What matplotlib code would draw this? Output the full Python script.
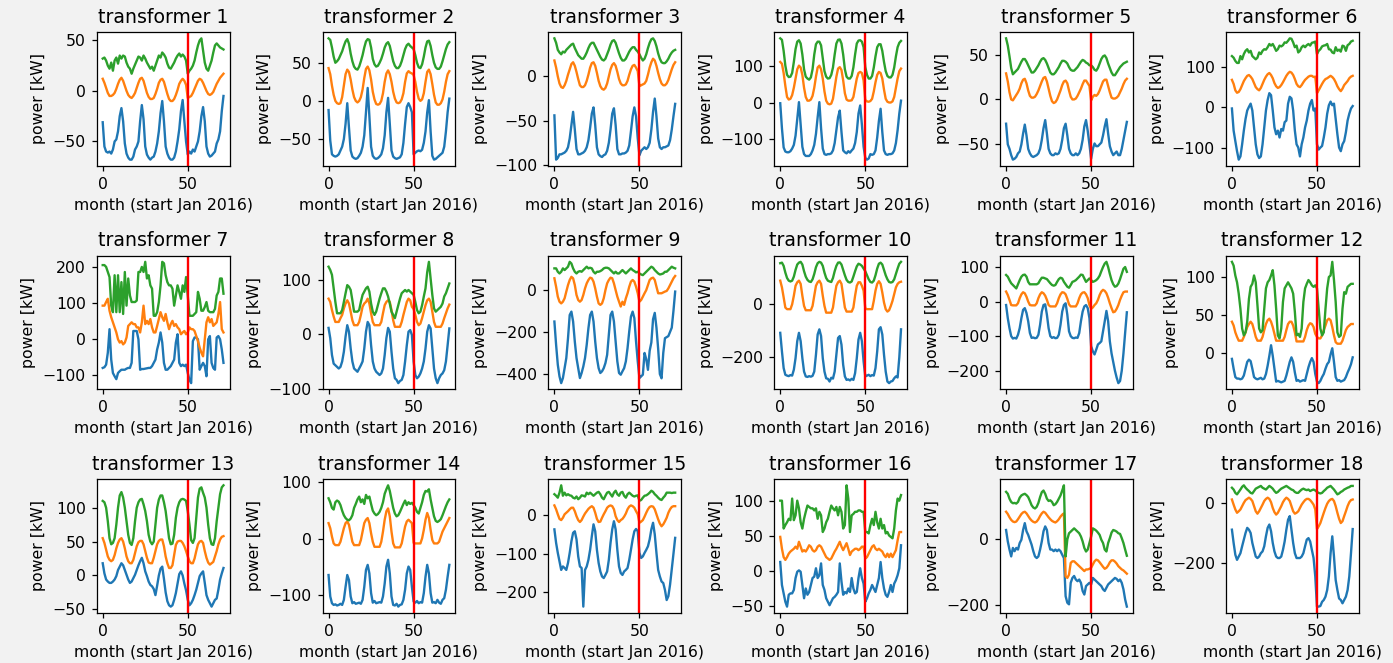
import matplotlib
matplotlib.use('Agg')
import matplotlib.pyplot as plt
import numpy as np

months = np.arange(72)

t1_blue = [-31,-55,-60,-61,-60,-62,-58,-50,-48,-40,-25,-17,
 -30,-52,-62,-66,-68,-68,-65,-58,-55,-50,-30,-14,
 -28,-55,-63,-66,-68,-66,-65,-60,-52,-40,-22,-10,
 -30,-55,-62,-66,-68,-68,-66,-60,-50,-38,-20,-9,
 -30,-50,-63,-60,-62,-58,-60,-55,-50,-40,-25,-16,
 -30,-55,-62,-65,-64,-62,-60,-52,-48,-40,-20,-5]
t1_orange = [12,8,3,-2,-5,-5,-4,-2,2,7,11,13,
 10,5,0,-4,-6,-7,-5,-2,3,8,12,13,
 10,4,-2,-6,-8,-8,-7,-3,2,8,11,12,
 9,3,-3,-8,-10,-10,-8,-4,1,7,10,12,
 10,6,-7,-6,-5,-2,2,6,10,12,11,8,
 4,0,-3,-4,-3,-1,3,7,10,13,15,17]
t1_green = [32,33,30,25,22,28,20,30,33,27,35,32,
 35,34,28,24,22,17,22,26,30,34,33,30,
 35,32,28,25,22,24,20,25,30,35,33,38,
 36,33,27,23,22,25,28,32,35,37,34,36,
 34,30,17,20,22,25,30,38,45,50,52,40,
 28,22,20,25,30,38,45,47,45,43,42,41]

t2_blue = [-12,-52,-70,-72,-73,-72,-70,-65,-60,-50,-30,-3,
 -35,-65,-73,-75,-76,-75,-72,-68,-60,-45,-15,17,
 -20,-60,-72,-75,-76,-75,-73,-70,-62,-45,-15,4,
 -30,-65,-73,-75,-76,-75,-74,-70,-55,-30,-8,-3,
 -8,-15,-70,-68,-66,-65,-66,-64,-55,-40,-15,1,
 -40,-72,-77,-76,-74,-72,-70,-68,-60,-40,-15,3]
t2_orange = [43,35,20,8,0,-3,-4,-3,5,20,35,41,
 38,28,15,5,0,-2,0,5,15,30,42,45,
 40,28,12,2,-4,-5,-4,0,10,25,36,40,
 35,25,12,3,-2,-3,-2,2,10,25,36,39,
 37,36,34,25,12,3,0,2,10,25,38,41,
 35,22,8,-2,-5,-5,-3,2,12,25,35,39]
t2_green = [82,80,70,58,50,52,55,60,65,72,78,81,
 75,62,52,45,42,41,45,52,60,70,78,81,
 80,70,55,48,45,46,50,55,62,70,75,77,
 72,62,52,46,43,43,46,52,60,68,73,75,
 72,70,68,60,50,44,43,48,58,70,78,79,
 72,60,50,44,42,42,45,52,60,68,74,77]

t3_blue = [-44,-94,-92,-88,-88,-87,-86,-84,-80,-70,-55,-40,
 -60,-82,-88,-88,-87,-86,-84,-80,-72,-58,-42,-35,
 -55,-80,-88,-90,-91,-89,-88,-84,-75,-60,-42,-36,
 -55,-82,-88,-88,-87,-87,-86,-84,-78,-62,-45,-35,
 -45,-70,-89,-84,-82,-80,-82,-80,-75,-60,-40,-25,
 -45,-70,-80,-82,-80,-80,-79,-78,-72,-60,-45,-31]
t3_orange = [18,10,0,-8,-12,-13,-10,-5,2,8,14,16,
 12,5,-3,-10,-12,-12,-10,-5,2,10,15,16,
 12,4,-5,-11,-14,-15,-13,-8,0,8,13,15,
 12,5,-3,-8,-10,-10,-9,-5,2,8,12,13,
 10,6,-11,-10,-9,-8,-5,2,10,16,20,18,
 12,4,-3,-8,-10,-10,-8,-4,2,8,13,16]
t3_green = [43,38,30,27,25,28,27,30,32,34,36,37,
 32,28,24,22,20,20,23,27,32,36,38,38,
 34,30,26,22,19,18,20,25,30,36,40,41,
 38,32,26,21,18,18,20,24,28,31,33,33,
 30,28,25,21,18,20,25,32,38,42,43,40,
 34,26,20,16,15,15,17,20,24,27,29,30]

t4_blue = [-2,-70,-122,-133,-135,-135,-132,-125,-115,-90,-45,1,
 -60,-120,-140,-145,-145,-145,-140,-130,-115,-85,-40,1,
 -70,-125,-140,-142,-140,-140,-138,-130,-110,-75,-40,-22,
 -80,-130,-135,-138,-132,-136,-130,-125,-110,-80,-30,-8,
 -60,-120,-150,-155,-152,-140,-142,-140,-130,-95,-50,-17,
 -80,-130,-140,-142,-140,-140,-138,-130,-110,-75,-30,5]
t4_orange = [110,105,80,45,15,8,10,20,40,65,90,100,
 95,75,40,15,5,5,8,18,40,70,95,100,
 90,65,30,5,-3,-5,-3,10,40,70,92,96,
 88,60,25,8,5,5,6,15,40,65,80,83,
 80,60,7,3,2,4,10,30,55,75,83,80,
 65,35,10,2,0,0,3,15,40,65,85,92]
t4_green = [174,170,140,100,75,69,70,80,110,145,165,169,
 160,130,90,70,65,62,68,90,130,158,165,165,
 155,120,85,70,65,66,75,95,130,160,170,171,
 160,130,90,70,65,65,72,95,130,160,168,169,
 165,150,96,75,65,65,72,95,125,150,158,158,
 140,110,85,72,68,68,75,95,125,150,162,167]

t5_blue = [-27,-50,-55,-62,-67,-66,-64,-60,-58,-50,-38,-28,
 -40,-55,-60,-63,-64,-63,-62,-60,-55,-45,-32,-23,
 -38,-55,-60,-62,-62,-60,-61,-60,-55,-45,-32,-27,
 -40,-55,-60,-62,-62,-60,-62,-60,-55,-45,-30,-23,
 -35,-50,-66,-55,-49,-52,-52,-50,-48,-40,-30,-22,
 -38,-52,-58,-62,-60,-58,-62,-62,-55,-45,-35,-25]
t5_orange = [29,20,8,0,-1,2,5,8,12,18,22,23,
 18,10,4,2,2,3,6,10,15,20,24,25,
 20,12,4,-2,-4,-3,0,5,10,16,20,21,
 18,10,3,0,0,1,4,8,12,17,21,21,
 18,15,-1,3,5,4,6,10,15,20,22,22,
 15,8,2,1,1,2,4,8,12,17,21,23]
t5_green = [68,60,48,35,28,30,32,34,38,42,45,45,
 42,38,34,30,30,32,35,38,42,45,46,44,
 40,35,30,28,28,30,33,36,40,43,43,42,
 40,36,33,32,32,34,36,39,42,44,43,41,
 40,38,38,36,33,32,35,40,45,48,49,46,
 40,35,30,27,27,30,33,36,38,40,41,42]

t6_blue = [-3,-58,-84,-109,-130,-122,-92,-58,-29,-8,1,9,
 -8,-50,-92,-117,-126,-122,-92,-50,-8,18,35,30,
 -8,-50,-67,-58,-75,-54,-58,-37,-33,9,26,22,
 -8,-58,-92,-100,-122,-92,-75,-50,-33,-8,9,18,
 -8,-3,-92,-105,-100,-96,-75,-50,-16,5,14,5,
 9,-29,-67,-100,-109,-92,-84,-62,-33,-16,-3,3]
t6_orange = [68,58,42,36,38,45,55,65,72,78,80,76,
 70,60,50,45,42,48,58,68,76,82,85,80,
 72,60,52,48,50,55,62,70,78,84,88,86,
 80,70,58,52,50,55,62,68,72,76,78,78,
 75,76,35,42,50,58,65,70,72,75,78,75,
 70,62,52,45,40,46,55,60,65,72,76,78]
t6_green = [127,123,115,110,110,127,119,132,140,144,136,140,
 127,123,119,123,136,132,140,144,143,149,157,153,
 157,149,140,144,153,151,154,161,160,165,171,170,
 161,149,153,136,140,149,153,149,154,157,153,160,
 161,163,132,140,144,151,153,154,157,144,143,136,
 134,149,140,143,138,153,151,140,154,157,163,165]

t7_blue = [-80,-78,-71,-38,27,-57,-94,-103,-111,-94,-89,-85,
 -85,-85,-82,-80,-80,-66,22,22,22,-1,-85,-83,
 -83,-82,-81,-80,-80,-75,-66,-57,-29,-10,18,-10,
 -66,-85,-85,-80,-75,-66,-57,-10,13,-66,-75,-71,
 -75,-71,-94,-113,-122,-6,4,4,-1,-85,-75,-66,
 -75,-103,-1,8,-66,-80,-85,4,8,-1,-29,-66]
t7_orange = [92,92,102,111,78,60,46,32,18,-1,-10,-6,
 -15,-10,4,36,41,46,41,41,32,32,18,46,
 92,41,50,41,55,32,18,18,36,55,74,60,
 50,69,46,27,41,50,36,41,32,27,13,18,
 22,13,18,32,27,27,22,8,-6,-24,-38,-48,
 -1,46,60,46,55,36,41,46,69,102,27,18]
t7_green = [204,204,199,185,171,92,74,176,74,176,74,157,
 69,185,92,167,120,102,102,102,106,185,185,199,
 185,213,167,176,148,139,64,64,74,102,148,213,
 209,176,157,148,148,139,92,120,148,130,111,148,
 130,171,120,64,64,64,69,74,130,111,78,78,
 88,102,78,74,74,74,83,120,130,167,167,125]

t8_blue = [12,-7,-38,-54,-57,-60,-63,-60,-50,-32,-4,17,
 5,-26,-50,-63,-66,-69,-63,-57,-50,-26,5,23,
 17,-20,-50,-63,-69,-72,-75,-72,-63,-38,-7,12,
 5,-32,-63,-81,-84,-90,-86,-84,-75,-50,-20,5,
 8,-1,-50,-75,-81,-78,-72,-63,-50,-26,5,17,
 11,-26,-63,-81,-90,-81,-75,-72,-66,-50,-20,11]
t8_orange = [66,60,45,33,23,23,23,30,36,48,57,63,
 57,42,26,17,17,17,23,36,51,57,60,66,
 57,39,23,17,17,17,17,23,39,54,60,63,
 60,45,26,14,14,14,14,23,36,48,60,66,
 63,51,47,36,23,17,20,30,42,54,63,66,
 60,42,23,14,14,14,14,20,30,39,48,55]
t8_green = [125,119,110,85,60,39,39,39,45,60,76,91,
 88,82,63,42,42,42,45,60,73,79,85,88,
 79,57,42,36,42,54,66,76,85,85,79,70,
 57,42,36,30,42,54,66,76,79,82,79,82,
 79,76,73,60,45,39,42,54,70,85,115,134,
 103,73,48,42,45,48,51,57,70,76,85,94]

t9_blue = [-151,-261,-356,-411,-443,-419,-372,-324,-230,-120,-104,-151,
 -246,-324,-372,-419,-395,-364,-324,-261,-183,-120,-104,-151,
 -246,-324,-372,-395,-387,-372,-348,-309,-214,-120,-104,-151,
 -246,-340,-395,-403,-387,-372,-340,-277,-198,-128,-104,-135,
 -246,-340,-419,-411,-403,-300,-330,-380,-290,-250,-140,-110,
 -180,-280,-400,-420,-300,-230,-225,-220,-200,-180,-100,-9]
t9_orange = [54,14,-33,-57,-65,-57,-41,-9,22,46,61,54,
 22,-25,-49,-57,-49,-25,6,30,46,57,54,38,
 6,-33,-65,-72,-65,-41,-2,30,46,57,54,30,
 -2,-33,-57,-80,-57,-72,-41,-17,14,38,46,38,
 14,-17,-57,-49,-33,-17,-2,22,46,54,57,46,
 14,-17,-17,-17,-13,-9,-6,6,22,38,54,65]
t9_green = [101,101,85,77,85,101,93,101,109,132,124,101,
 85,77,85,88,85,93,101,109,101,104,101,85,
 77,85,85,88,93,101,104,104,101,93,85,77,
 85,77,77,85,93,85,77,85,93,101,93,88,
 82,85,77,72,69,77,85,93,101,109,104,93,
 85,77,72,74,77,85,85,93,101,109,104,101]

t10_blue = [-109,-178,-240,-265,-268,-270,-266,-268,-246,-203,-140,-109,
 -140,-203,-253,-271,-273,-270,-272,-269,-253,-190,-115,-96,
 -121,-203,-253,-278,-280,-290,-276,-279,-253,-190,-128,-121,
 -153,-228,-271,-284,-282,-286,-280,-284,-259,-203,-134,-109,
 -140,-215,-271,-268,-265,-270,-266,-268,-240,-178,-96,-88,
 -115,-190,-253,-290,-296,-290,-288,-278,-271,-275,-200,-96]
t10_orange = [85,60,23,-15,-21,-21,-21,-3,29,66,79,85,
 73,29,-9,-25,-25,-25,-25,-9,29,66,79,85,
 73,29,-9,-34,-34,-34,-34,-15,29,66,79,85,
 73,29,-15,-30,-30,-30,-30,-15,29,66,79,79,
 66,48,-18,-21,-21,-21,-21,10,48,73,83,73,
 41,4,-21,-30,-25,-9,10,35,60,73,79,81]
t10_green = [150,152,140,115,95,85,82,85,100,125,145,152,
 155,145,120,100,88,82,80,90,110,135,150,155,
 152,140,115,95,85,82,80,95,120,140,152,153,
 145,125,105,88,80,78,82,100,120,138,148,145,
 140,130,120,105,90,80,78,85,105,130,148,152,
 145,125,105,90,80,78,80,90,110,130,148,155]

t11_blue = [-10,-48,-77,-100,-107,-105,-107,-96,-77,-48,-24,-19,
 -33,-57,-91,-105,-104,-106,-105,-96,-67,-29,-10,-8,
 -38,-77,-100,-105,-103,-106,-105,-96,-67,-29,-10,-5,
 -38,-86,-100,-105,-106,-104,-105,-91,-57,-29,-14,-10,
 -19,-48,-129,-144,-153,-139,-124,-120,-115,-86,-57,-27,
 -57,-115,-150,-175,-200,-220,-236,-230,-200,-150,-90,-31]
t11_orange = [29,19,5,-10,-11,-11,-11,-5,10,21,27,24,
 14,0,-10,-11,-11,-11,-5,10,21,27,24,17,
 5,-10,-14,-14,-14,-14,-5,10,21,27,26,21,
 8,-8,-14,-14,-14,-14,-5,10,21,26,27,21,
 10,-10,-21,-17,-10,-5,5,19,29,34,31,24,
 11,-5,-19,-31,-29,-21,-10,5,17,27,29,29]
t11_green = [77,72,62,53,48,43,38,50,62,72,77,78,
 72,57,50,50,50,50,50,53,62,69,69,67,
 65,59,53,48,46,48,57,65,69,67,57,50,
 43,40,48,57,59,62,67,72,78,77,67,57,
 62,67,62,57,59,62,67,75,88,100,110,115,
 100,80,62,50,43,45,52,65,80,95,100,86]

t12_blue = [-8,-21,-32,-34,-34,-35,-34,-30,-21,-12,-9,-11,
 -21,-32,-34,-35,-34,-33,-35,-34,-28,-17,-4,10,
 -4,-21,-38,-37,-38,-39,-38,-37,-30,-21,-12,-6,
 -12,-26,-37,-36,-38,-37,-36,-37,-28,-19,-12,-7,
 -12,-28,-38,-40,-37,-32,-28,-21,-15,-12,-2,6,
 -12,-32,-37,-36,-38,-37,-36,-32,-26,-21,-15,-6]
t12_orange = [41,36,27,21,16,16,16,21,27,34,38,41,
 38,30,21,16,16,16,21,30,38,43,45,41,
 34,25,16,16,16,16,16,21,30,38,41,41,
 36,27,15,15,15,15,15,21,30,36,39,38,
 34,25,21,19,19,23,30,36,43,45,43,34,
 23,14,12,12,12,16,23,30,34,36,38,38]
t12_green = [120,115,102,93,78,58,32,23,27,41,71,87,
 91,102,93,63,32,27,30,58,85,93,96,102,
 109,89,58,23,19,32,67,85,89,93,89,85,
 78,54,23,25,21,32,67,85,91,96,93,89,
 87,89,85,58,32,23,27,58,85,100,102,120,
 96,67,27,21,23,58,80,78,87,89,91,91]

t13_blue = [18,3,-6,-9,-11,-11,-9,-6,-1,8,13,18,
 15,8,1,-6,-11,-9,-4,1,8,15,21,26,
 18,6,-1,-9,-14,-16,-20,-29,-15,0,10,13,
 -5,-25,-38,-44,-46,-44,-36,-26,-12,2,6,0,
 -12,-22,-36,-44,-41,-36,-29,-21,-11,-1,3,6,
 -11,-29,-36,-41,-46,-41,-36,-34,-21,-6,3,11]
t13_orange = [55,48,38,28,23,21,23,30,40,48,53,55,
 50,40,28,21,18,18,23,33,43,49,51,51,
 46,36,26,19,18,18,26,36,46,51,53,53,
 43,28,18,11,11,15,30,45,50,51,51,48,
 43,36,28,21,18,18,25,36,46,50,51,48,
 36,26,19,16,18,20,28,36,46,53,57,58]
t13_green = [110,108,100,80,55,46,48,55,75,100,118,123,
 115,100,80,60,48,45,55,80,100,108,112,113,
 105,95,80,60,50,46,50,75,100,112,118,118,
 108,95,75,55,46,47,60,85,100,108,112,113,
 112,110,95,75,52,48,55,85,115,128,130,122,
 115,100,75,55,46,45,55,80,100,120,130,133]

t14_blue = [-64,-102,-114,-117,-116,-118,-117,-115,-117,-108,-85,-64,
 -73,-102,-114,-112,-115,-114,-113,-115,-108,-85,-55,-46,
 -61,-96,-113,-110,-114,-113,-112,-113,-102,-79,-49,-37,
 -61,-102,-117,-118,-115,-120,-117,-116,-108,-90,-61,-49,
 -55,-85,-111,-113,-110,-114,-112,-113,-96,-67,-46,-61,
 -96,-113,-112,-114,-108,-113,-115,-108,-105,-90,-67,-46]
t14_orange = [28,19,4,-8,-11,-11,-11,-5,7,19,28,31,
 25,10,-5,-11,-11,-11,-11,-2,13,28,34,37,
 28,10,-5,-14,-14,-14,-14,-5,13,34,49,54,
 40,13,-8,-15,-15,-15,-15,-8,7,22,31,34,
 31,28,-7,-8,-8,-8,-8,1,16,34,46,37,
 16,-2,-8,-8,-8,-5,4,13,19,25,31,37]
t14_green = [72,65,55,52,65,68,66,60,50,42,37,34,
 33,36,42,55,62,70,75,65,70,62,78,72,
 75,62,50,45,42,44,48,55,65,80,88,95,
 85,70,55,45,40,42,48,55,62,68,60,65,
 62,64,60,55,48,45,55,65,78,85,84,88,
 70,55,40,32,30,32,35,42,50,58,65,70]

t15_blue = [-37,-72,-98,-120,-142,-133,-137,-142,-124,-98,-68,-46,
 -42,-63,-107,-133,-137,-237,-142,-133,-116,-90,-55,-24,
 -42,-90,-124,-146,-159,-163,-155,-146,-116,-72,-37,-16,
 -37,-90,-133,-150,-155,-146,-142,-137,-116,-90,-63,-42,
 -36,-42,-98,-111,-107,-98,-90,-81,-63,-37,-20,-50,
 -98,-142,-159,-172,-176,-194,-220,-210,-180,-140,-100,-59]
t15_orange = [25,15,2,-10,-13,-7,2,6,10,15,19,19,
 10,-3,-13,-18,-13,-4,4,10,16,20,23,19,
 6,-10,-18,-17,-7,2,10,19,23,25,23,15,
 -3,-13,-18,-13,-10,-4,4,15,22,25,23,19,
 10,2,-20,-17,-13,-4,6,15,21,23,22,15,
 2,-11,-22,-29,-24,-16,-7,6,15,21,23,23]
t15_green = [54,50,45,58,77,50,58,51,54,51,50,45,
 43,48,41,45,51,50,48,58,54,58,54,50,
 54,58,60,54,45,41,50,58,60,54,48,58,
 63,54,50,58,60,50,45,54,58,54,50,48,
 50,51,37,39,45,50,51,54,58,63,60,54,
 50,45,41,39,45,50,58,58,58,57,58,58]

t16_blue = [13,-20,-32,-44,-51,-34,-32,-32,-27,-10,-1,1,
 -1,-20,-39,-25,-34,-30,-20,-10,-8,4,-10,-6,
 11,-20,-27,-39,-44,-49,-44,-39,-37,-34,-30,11,
 -15,-34,-30,-32,-25,-30,-10,-25,-32,-30,-10,4,
 -10,-18,-44,-39,-32,-27,-20,-25,-30,-20,-10,13,
 -10,-25,-34,-37,-30,-20,-30,-18,-13,-6,4,37]
t16_orange = [49,32,20,16,20,25,28,30,32,35,32,42,
 35,28,30,28,32,37,35,30,28,30,35,37,
 35,30,25,20,18,16,18,23,28,32,37,42,
 35,30,35,40,32,23,28,30,32,32,30,32,
 35,35,18,20,25,30,35,37,32,30,32,30,
 28,23,20,25,20,25,20,25,30,44,56,56]
t16_green = [101,101,61,66,70,75,73,104,73,80,101,90,
 70,61,75,85,94,92,90,90,87,90,75,85,
 80,56,61,70,75,85,94,90,87,92,80,92,
 85,61,66,123,104,56,80,82,85,85,87,87,
 85,85,56,56,54,66,75,66,85,70,61,75,
 61,66,54,56,51,49,47,61,87,104,101,109]

t17_blue = [29,-6,-31,-52,-26,-36,-26,-31,-11,-1,29,50,
 25,14,-1,-16,-36,-52,-57,-52,-31,-6,25,40,
 29,-11,-31,-31,-36,-31,-36,-31,-36,-47,-57,-174,
 -194,-199,-133,-118,-112,-123,-128,-123,-133,-158,-169,-143,
 -138,-133,-138,-118,-123,-128,-133,-138,-143,-153,-158,-148,
 -138,-133,-128,-123,-118,-121,-128,-123,-133,-153,-184,-206]
t17_orange = [85,78,68,60,55,53,55,62,70,78,83,85,
 80,72,64,58,54,52,55,62,72,80,85,82,
 75,68,62,57,54,52,56,62,70,76,80,-113,
 -118,-108,-72,-67,-67,-72,-77,-82,-87,-92,-97,-92,
 -92,-90,-87,-77,-67,-62,-64,-70,-77,-84,-90,-87,
 -80,-70,-64,-64,-68,-74,-82,-87,-92,-95,-100,-105]
t17_green = [146,140,125,115,111,112,110,115,128,135,138,140,
 136,130,118,105,98,95,100,112,130,145,150,140,
 125,118,120,115,105,108,115,125,135,150,166,-52,
 0,19,24,29,34,29,24,19,9,-6,-26,-37,
 -31,-11,9,34,31,27,21,14,-1,-11,-31,-37,
 -11,4,21,29,27,24,19,17,4,-11,-31,-50]

t18_blue = [-89,-133,-172,-189,-178,-167,-144,-122,-100,-83,-89,-100,
 -133,-156,-178,-183,-178,-167,-161,-144,-111,-83,-72,-94,
 -133,-161,-178,-183,-183,-178,-156,-128,-89,-56,-44,-89,
 -133,-167,-183,-183,-183,-178,-167,-144,-122,-117,-128,-156,
 -183,-244,-344,-344,-342,-328,-322,-311,-289,-244,-167,-111,
 -178,-256,-289,-317,-322,-333,-322,-311,-289,-244,-167,-87]
t18_orange = [11,-6,-22,-33,-28,-22,-11,0,9,13,17,13,
 6,-11,-28,-36,-28,-17,-6,6,13,17,13,2,
 -17,-31,-39,-33,-22,-11,2,11,17,13,6,-11,
 -28,-36,-33,-28,-17,-6,2,9,13,13,9,2,
 -6,-22,-87,-78,-67,-50,-33,-17,-3,6,11,13,
 6,-11,-33,-53,-67,-61,-44,-28,-11,2,9,11]
t18_green = [50,44,33,28,36,44,53,58,50,44,39,33,
 31,39,47,50,53,56,50,47,44,50,56,52,
 47,39,33,36,42,47,50,53,56,52,48,44,
 42,36,33,33,39,44,47,44,42,44,39,42,
 44,41,36,33,31,33,39,44,50,53,56,50,
 44,36,28,31,36,39,44,47,50,52,56,56]

split_month = 50

series = [
    (t1_blue, t1_orange, t1_green), (t2_blue, t2_orange, t2_green),
    (t3_blue, t3_orange, t3_green), (t4_blue, t4_orange, t4_green),
    (t5_blue, t5_orange, t5_green), (t6_blue, t6_orange, t6_green),
    (t7_blue, t7_orange, t7_green), (t8_blue, t8_orange, t8_green),
    (t9_blue, t9_orange, t9_green), (t10_blue, t10_orange, t10_green),
    (t11_blue, t11_orange, t11_green), (t12_blue, t12_orange, t12_green),
    (t13_blue, t13_orange, t13_green), (t14_blue, t14_orange, t14_green),
    (t15_blue, t15_orange, t15_green), (t16_blue, t16_orange, t16_green),
    (t17_blue, t17_orange, t17_green), (t18_blue, t18_orange, t18_green),
]

for k, trio in enumerate(series):
    for s in trio:
        assert len(s) == 72, (k + 1, len(s))

DPI = 113
fig, axes = plt.subplots(3, 6, figsize=(1393 / DPI, 663 / DPI), dpi=DPI)
fig.patch.set_facecolor('#f2f2f2')
fig.subplots_adjust(left=0.0694, right=0.9754, bottom=0.0759, top=0.9513,
                    wspace=0.70, hspace=0.675)

for i, ax in enumerate(axes.flat):
    b, o, g = series[i]
    ax.plot(months, b)
    ax.plot(months, o)
    ax.plot(months, g)
    ax.axvline(split_month, color='red')
    ax.set_title(f'transformer {i + 1}')
    ax.set_xlabel('month (start Jan 2016)')
    ax.set_ylabel('power [kW]')

fig.savefig('out.png', dpi=DPI, facecolor=fig.get_facecolor())
